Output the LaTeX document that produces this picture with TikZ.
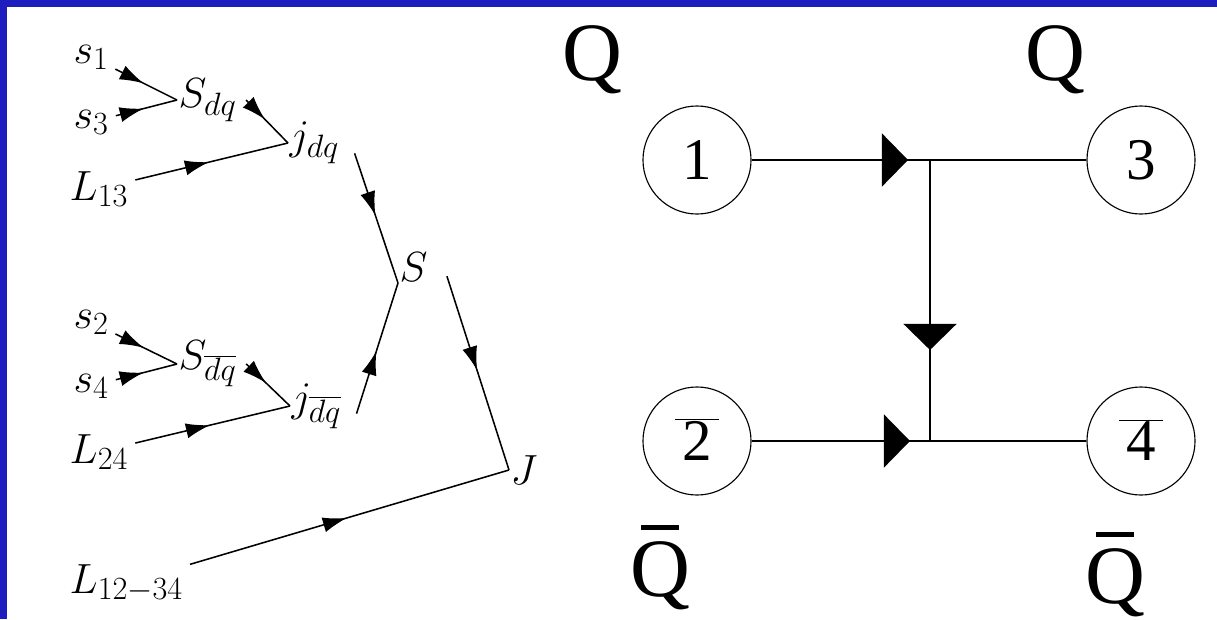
\documentclass[tikz,border=0pt]{standalone}
\usepackage{fix-cm}
\usepackage{fontspec}
\newfontfamily\qfont{Liberation Serif}
\usetikzlibrary{arrows.meta, decorations.markings}
\definecolor{edgeblue}{RGB}{30,30,190}
\DeclareMathSizes{30}{30}{23}{17}
% bar over a big letter, shorter than the letter
\newcommand{\barQ}{\ooalign{Q\cr\hidewidth\raisebox{0.8em}{\rule{0.45em}{0.06em}}\hidewidth\cr}}

\begin{document}
\begin{tikzpicture}[x=0.025cm, y=-0.025cm,
  lbl/.style={inner sep=1pt, font=\fontsize{30}{36}\selectfont},
  flow/.style={line width=1.1pt, shorten <=4pt, postaction={decorate},
    decoration={markings, mark=at position 0.5 with {\arrow{Latex[length=0.6cm,width=0.38cm]}}}},
  wire/.style={line width=1.3pt},
  tri/.style={postaction={decorate}, decoration={markings,
    mark=at position #1 with {\arrow{Triangle[length=0.65cm,width=1.32cm]}}}},
  qnode/.style={circle, draw, line width=0.8pt, minimum size=2.7cm, inner sep=0pt,
    text height=28pt, text depth=0pt, font=\qfont\fontsize{42}{48}\selectfont},
  qlbl/.style={anchor=base, inner sep=0pt, font=\qfont\fontsize{59}{66}\selectfont}]
  \fill[edgeblue] (0,0) rectangle (1217,619);
  \fill[white] (7,7) rectangle (1217,619);
  \useasboundingbox (0,0) rectangle (1217,619);

  % coupling tree
  \node[lbl, anchor=base west] (s1) at (72,63) {$s_1$};
  \node[lbl, anchor=base west] (s3) at (72,128) {$s_3$};
  \node[lbl, anchor=base west] (L13) at (68,200) {$L_{13}$};
  \node[lbl, anchor=west] (Sdq) at (177,100) {$S_{dq}$};
  \node[lbl, anchor=west] (jdq) at (288,143) {$j_{dq}$};
  \node[lbl, anchor=base west] (s2) at (72,328) {$s_2$};
  \node[lbl, anchor=base west] (s4) at (72,392) {$s_4$};
  \node[lbl, anchor=base west] (L24) at (68,463) {$L_{24}$};
  \node[lbl, anchor=west] (Sdqb) at (177,364) {$S_{\overline{dq}}$};
  \node[lbl, anchor=west] (jdqb) at (290,406) {$j_{\overline{dq}}$};
  \node[lbl, anchor=south west] (S) at (398,283) {$S$};
  \node[lbl, anchor=west] (J) at (509,470) {$J$};
  \node[lbl, anchor=base west] (L1234) at (68,593) {$L_{12-34}$};

  \draw[flow] (s1) -- (Sdq.west);
  \draw[flow] (s3) -- (Sdq.west);
  \draw[flow] ([shift={(4,-4)}]Sdq.east) -- (jdq.west);
  \draw[flow] (L13) -- (jdq.west);
  \draw[flow] (s2) -- (Sdqb.west);
  \draw[flow] (s4) -- (Sdqb.west);
  \draw[flow] ([shift={(4,-4)}]Sdqb.east) -- (jdqb.west);
  \draw[flow] (L24) -- (jdqb.west);
  \draw[flow] ([shift={(12,5)}]jdq.east) -- (S.south west);
  \draw[flow] ([shift={(12,13)}]jdqb.east) -- (S.south west);
  \draw[flow] ([shift={(16,4)}]S.east) -- (J.west);
  \draw[flow] (L1234) -- (J.west);

  % quark lines
  \node[qnode] (n1) at (697,160) {1};
  \node[qnode] (n3) at (1141,160) {3};
  \node[qnode] (n2) at (697,441) {$\overline{\hbox{\kern0.12em2\kern0.12em}}$};
  \node[qnode] (n4) at (1141,441) {$\overline{\hbox{\kern0.12em4\kern0.12em}}$};
  \coordinate (jt) at (930,160);
  \coordinate (jb) at (930,441);
  \draw[wire, tri=-0.55cm] (n1) -- (jt);
  \draw[wire] (jt) -- (n3);
  \draw[wire, tri=0.676] (jt) -- (jb);
  \draw[wire, tri=-0.5cm] (n2) -- (jb);
  \draw[wire] (jb) -- (n4);

  \node[qlbl] (qa) at (592,80) {Q};
  \node[qlbl] (qb) at (1055,80) {Q};
  \node[qlbl] (qc) at (660,596) {\barQ};
  \node[qlbl] (qd) at (1115,603) {\barQ};
\end{tikzpicture}
\end{document}
